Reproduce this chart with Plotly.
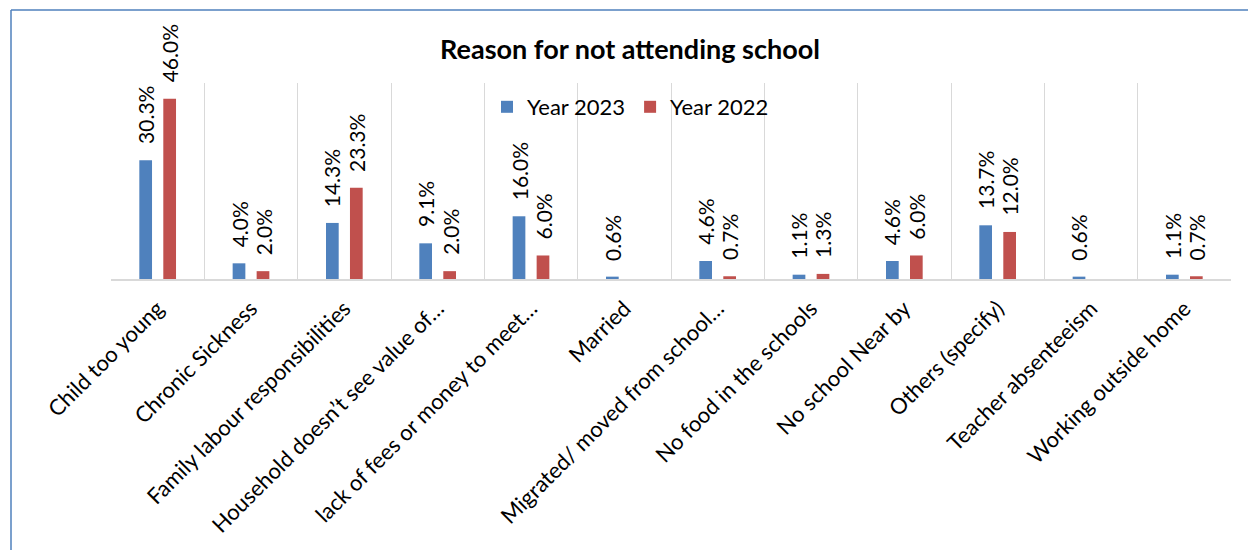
import plotly.graph_objects as go

# Reasons given for children not attending school, share of respondents (%)
categories = [
    "Child too young",
    "Chronic Sickness",
    "Family labour responsibilities",
    "Household doesn\u2019t see value of\u2026",
    "lack of fees or money to meet\u2026",
    "Married",
    "Migrated/ moved from school\u2026",
    "No food in the schools",
    "No school Near by",
    "Others (specify)",
    "Teacher absenteeism",
    "Working outside home",
]
year_2023 = [30.3, 4.0, 14.3, 9.1, 16.0, 0.6, 4.6, 1.1, 4.6, 13.7, 0.6, 1.1]
year_2022 = [46.0, 2.0, 23.3, 2.0, 6.0, None, 0.7, 1.3, 6.0, 12.0, None, 0.7]

BLUE = "#4F81BD"
RED = "#C0504D"
FONT = "Lato, Carlito, Calibri, sans-serif"

W, H = 1248, 550
M_L, M_R, M_T, M_B = 111, 17, 83, 271
plot_w = W - M_L - M_R
cat_w = plot_w / len(categories)
BARGAP = 0.486
BARGROUPGAP = 0.47
slot = cat_w * (1 - BARGAP) / 2  # width reserved for each series in a group

fig = go.Figure()
fig.add_trace(go.Bar(name="Year 2023", x=categories, y=year_2023,
                     marker=dict(color=BLUE, line=dict(width=0))))
fig.add_trace(go.Bar(name="Year 2022", x=categories, y=year_2022,
                     marker=dict(color=RED, line=dict(width=0))))

# Rotated value labels above each bar
annotations = []
for values, shift in ((year_2023, -slot / 2), (year_2022, slot / 2)):
    for cat, v in zip(categories, values):
        if v is None:
            continue
        annotations.append(dict(
            x=cat, y=v, xref="x", yref="y", text=f"{v:.1f}%",
            showarrow=False, textangle=-90, xanchor="center", yanchor="bottom",
            xshift=shift, yshift=14,
            font=dict(family=FONT, size=21, color="#000000"),
        ))

# Outer chart frame
x0 = (11 - M_L) / plot_w
y0 = (H - M_B - 10) / (H - M_T - M_B)
x_far = (W + 20 - M_L) / plot_w
y_far = -(M_B + 20) / (H - M_T - M_B)
frame = dict(type="line", xref="paper", yref="paper",
             line=dict(color=BLUE, width=1.5))
shapes = [
    dict(frame, x0=x0, x1=x0, y0=y0, y1=y_far),
    dict(frame, x0=x0, x1=x_far, y0=y0, y1=y0),
]

fig.update_layout(
    width=W, height=H,
    margin=dict(l=M_L, r=M_R, t=M_T, b=M_B, autoexpand=False),
    paper_bgcolor="white", plot_bgcolor="white",
    barmode="group", bargap=BARGAP, bargroupgap=BARGROUPGAP,
    font=dict(family=FONT, size=22, color="#000000"),
    title=dict(text="<b>Reason for not attending school</b>",
               font=dict(family=FONT, size=27, color="#000000"),
               xref="container", x=630 / W, xanchor="center",
               yref="container", y=1 - 50 / H, yanchor="middle"),
    legend=dict(orientation="h", x=(487 - M_L) / plot_w, xanchor="left",
                y=1 - (107 - M_T) / (H - M_T - M_B), yanchor="middle",
                font=dict(family=FONT, size=22, color="#000000"),
                bgcolor="rgba(0,0,0,0)", traceorder="normal"),
    xaxis=dict(tickson="boundaries", showgrid=True, gridcolor="#D9D9D9",
               gridwidth=1.3, ticks="", showline=True, linecolor="#D9D9D9",
               linewidth=2, tickangle=-45, ticklabelstandoff=6,
               tickfont=dict(family=FONT, size=22, color="#000000")),
    yaxis=dict(range=[0, 50], showgrid=False, zeroline=False,
               showticklabels=False, showline=False, ticks=""),
    annotations=annotations,
    shapes=shapes,
)

fig.write_html("out.html")
